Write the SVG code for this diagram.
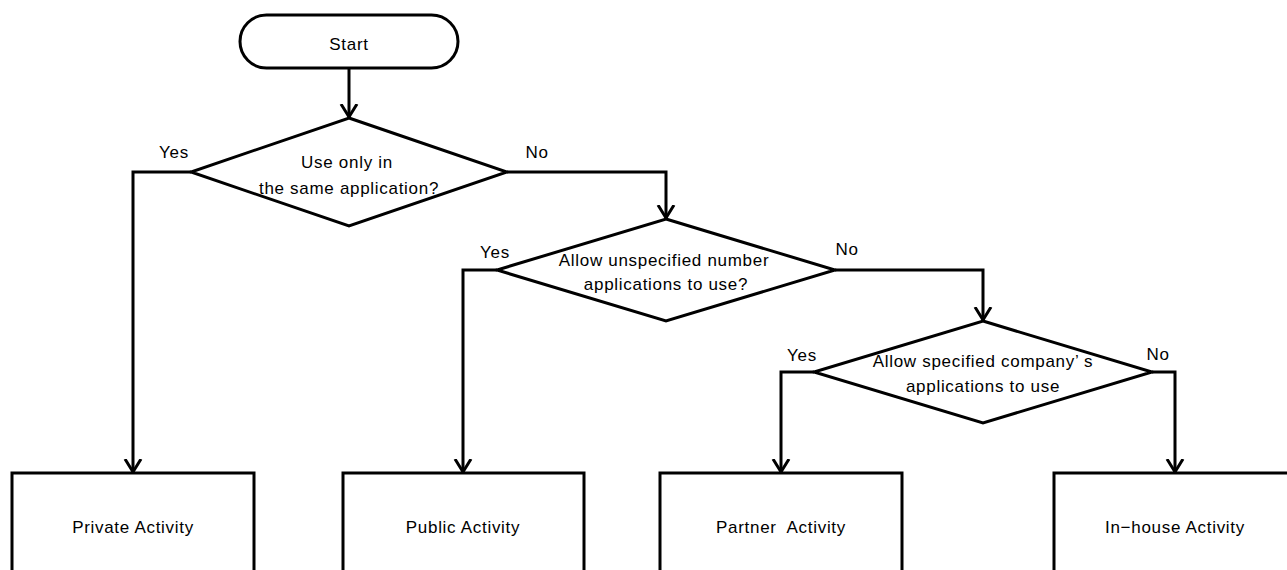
<svg xmlns="http://www.w3.org/2000/svg" width="1287" height="570" viewBox="0 0 1287 570">
<style>
.shape{fill:#fff;stroke:#000;stroke-width:3;stroke-linejoin:miter}
.line{fill:none;stroke:#000;stroke-width:3}
text{font-family:"Liberation Sans",Arial,sans-serif;font-size:17px;letter-spacing:0.7px;fill:#000}
.c{text-anchor:middle}
</style>
<defs>
<marker id="arr" markerWidth="20" markerHeight="20" refX="13" refY="8" orient="auto" markerUnits="userSpaceOnUse" viewBox="0 0 20 16">
<path d="M0,0 L13,8 L0,16" fill="none" stroke="#000" stroke-width="3"/>
</marker>
</defs>
<rect width="1287" height="570" fill="#fff"/>
<g id="connectors">
<path class="line" d="M349,68 V117" marker-end="url(#arr)"/>
<path class="line" d="M191,172 H133 V472" marker-end="url(#arr)"/>
<path class="line" d="M507,172 H666 V218" marker-end="url(#arr)"/>
<path class="line" d="M497,270 H463 V472" marker-end="url(#arr)"/>
<path class="line" d="M835,270 H983 V320" marker-end="url(#arr)"/>
<path class="line" d="M814,372 H781 V472" marker-end="url(#arr)"/>
<path class="line" d="M1152,372 H1175 V472" marker-end="url(#arr)"/>
<text x="174" y="158" class="c">Yes</text>
<text x="537" y="158" class="c">No</text>
<text x="495" y="258" class="c">Yes</text>
<text x="847" y="255" class="c">No</text>
<text x="802" y="361" class="c">Yes</text>
<text x="1158" y="360" class="c">No</text>
</g>
<g id="start">
<rect class="shape" x="240" y="15" width="218" height="53" rx="26.5" ry="26.5"/>
<text x="349" y="50" class="c">Start</text>
</g>
<g id="decision1">
<polygon class="shape" points="349,118 507,172 349,226 191,172"/>
<text x="347" y="168" class="c">Use only in</text>
<text x="349" y="194" class="c">the same application?</text>
</g>
<g id="decision2">
<polygon class="shape" points="666,219 835,270 666,321 497,270"/>
<text x="664" y="266" class="c">Allow unspecified number</text>
<text x="666" y="290" class="c">applications to use?</text>
</g>
<g id="decision3">
<polygon class="shape" points="983,321 1152,372 983,423 814,372"/>
<text x="983" y="367" class="c">Allow specified company’<tspan dx="5">s</tspan></text>
<text x="983" y="392" class="c">applications to use</text>
</g>
<g id="private">
<rect class="shape" x="12" y="473" width="242" height="110"/>
<text x="133" y="533" class="c">Private Activity</text>
</g>
<g id="public">
<rect class="shape" x="343" y="473" width="241" height="110"/>
<text x="463" y="533" class="c">Public Activity</text>
</g>
<g id="partner">
<rect class="shape" x="660" y="473" width="242" height="110"/>
<text x="781" y="533" class="c" xml:space="preserve">Partner  Activity</text>
</g>
<g id="inhouse">
<rect class="shape" x="1054" y="473" width="242" height="110"/>
<text x="1175" y="533" class="c">In−house Activity</text>
</g>
</svg>
